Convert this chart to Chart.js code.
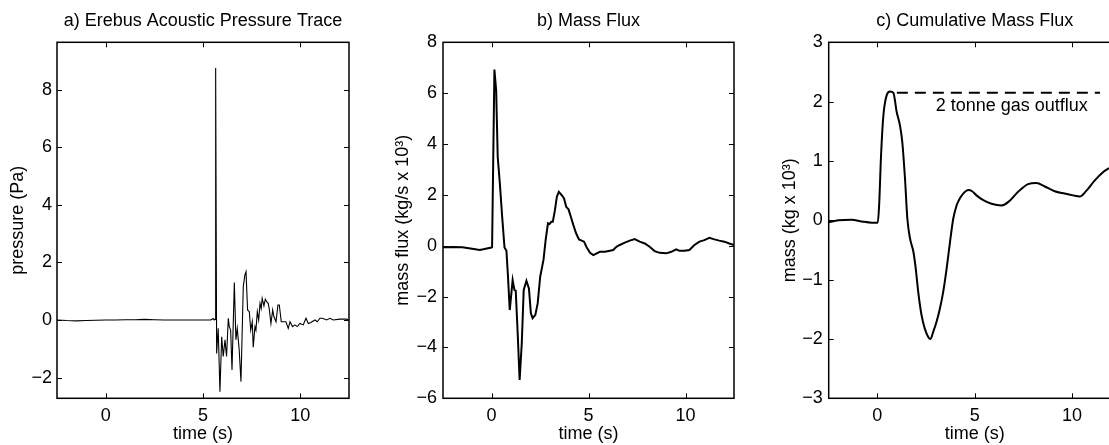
<!DOCTYPE html>
<html><head><meta charset="utf-8">
<script src="https://cdn.jsdelivr.net/npm/chart.js@4/dist/chart.umd.min.js"></script>
<style>
html,body{margin:0;padding:0;background:#fff;overflow:hidden;width:1109px;height:445px;position:relative;}
canvas{position:absolute;top:0;display:block;}
</style></head><body>
<canvas id="ca" width="370" height="445" style="left:0px;width:370px;height:445px"></canvas>
<canvas id="cb" width="370" height="445" style="left:370px;width:370px;height:445px"></canvas>
<canvas id="cc" width="390" height="445" style="left:740px;width:390px;height:445px"></canvas>
<script>
// ---------- data ----------
const X_TICKS = [0, 5, 10];
const A_Y_TICKS = [-2, 0, 2, 4, 6, 8];
const B_Y_TICKS = [-6, -4, -2, 0, 2, 4, 6, 8];
const C_Y_TICKS = [-3, -2, -1, 0, 1, 2, 3];

// a) acoustic pressure (Pa) vs time (s)
const A_T = [-2.5,-2.0,-1.5,-1.0,-0.5,0,0.5,1,1.5,2,2.5,3,3.5,4,4.5,5,5.4,5.52,5.58,5.62,5.65,5.70,5.78,5.87,5.96,6.04,6.13,6.21,6.30,6.35,6.42,6.49,6.61,6.69,6.76,6.86,6.95,7.07,7.15,7.21,7.29,7.38,7.45,7.53,7.58,7.67,7.72,7.79,7.86,7.93,7.99,8.04,8.13,8.20,8.27,8.35,8.40,8.49,8.58,8.64,8.75,8.85,8.92,9.02,9.12,9.26,9.38,9.47,9.60,9.72,9.84,9.98,10.15,10.29,10.41,10.54,10.75,10.87,11.01,11.14,11.35,11.52,11.69,12.03,12.38,12.5];
const A_P = [0.0,-0.02,-0.03,-0.02,-0.01,0.0,0.0,0.01,0.01,0.02,0.01,0.0,0.0,0.0,0.0,0.0,0.0,0.05,0.0,0.02,8.75,-1.16,-0.29,-2.49,-0.58,-1.27,-0.69,-1.27,0.06,-0.23,-0.35,-1.74,1.30,-0.69,-0.29,-1.04,-2.14,1.16,1.56,1.68,0.35,0.29,-0.35,-0.06,-0.95,-0.23,-0.35,0.29,0.0,0.58,0.40,0.75,0.49,0.72,0.64,0.58,0.40,-0.12,0.35,0.12,-0.06,0.52,0.52,-0.06,-0.06,-0.06,-0.29,-0.06,-0.23,-0.17,-0.23,-0.12,-0.17,0.06,-0.12,-0.09,0.0,-0.06,0.06,0.06,0.0,0.06,0.0,0.03,0.03,0.0];

// b) mass flux (kg/s x 10^3)
const B_T = [-2.5,-2.0,-1.5,-1.0,-0.6,-0.3,0.0,0.03,0.15,0.24,0.32,0.43,0.55,0.67,0.77,0.85,0.94,1.09,1.18,1.25,1.35,1.45,1.56,1.66,1.80,1.93,2.03,2.12,2.26,2.38,2.51,2.68,2.79,2.91,2.99,3.08,3.16,3.27,3.37,3.47,3.62,3.74,3.85,3.97,4.09,4.22,4.36,4.51,4.65,4.77,4.91,5.08,5.25,5.42,5.59,5.85,6.10,6.27,6.44,6.61,6.87,7.13,7.38,7.64,7.90,8.15,8.41,8.67,9.01,9.27,9.52,9.69,9.95,10.20,10.46,10.72,10.97,11.23,11.49,11.74,12.00,12.26,12.5];
const B_F = [-0.06,-0.05,-0.06,-0.12,-0.17,-0.12,-0.07,-0.05,6.93,6.12,3.50,2.45,1.14,-0.07,-0.20,-1.22,-2.53,-1.35,-1.74,-1.77,-3.45,-5.28,-3.84,-1.74,-1.38,-1.68,-2.66,-2.85,-2.72,-2.27,-1.22,-0.56,0.22,0.88,0.85,0.94,0.94,1.40,1.93,2.12,1.99,1.86,1.53,1.43,1.14,0.81,0.49,0.25,0.20,0.16,-0.07,-0.28,-0.37,-0.30,-0.24,-0.24,-0.20,-0.17,-0.04,0.03,0.12,0.20,0.26,0.16,0.09,-0.04,-0.21,-0.28,-0.30,-0.24,-0.14,-0.20,-0.20,-0.17,0.03,0.16,0.22,0.31,0.25,0.20,0.16,0.09,0.03];

// c) cumulative mass (kg x 10^3)
const C_T = [-2.5,-2.0,-1.32,-0.8,-0.29,0.02,0.09,0.19,0.31,0.48,0.65,0.82,0.99,1.16,1.28,1.42,1.54,1.68,1.85,1.97,2.10,2.27,2.44,2.62,2.73,2.87,3.04,3.21,3.38,3.56,3.73,3.90,4.07,4.24,4.41,4.67,4.87,5.09,5.44,5.86,6.38,6.80,7.23,7.74,8.17,8.60,9.11,9.62,10.05,10.39,10.74,11.16,11.59,11.9];
const C_M = [-0.03,0.0,0.01,-0.02,-0.04,-0.04,0.25,1.10,1.77,2.11,2.17,2.15,1.83,1.60,1.32,0.70,0.03,-0.31,-0.53,-0.81,-1.21,-1.60,-1.83,-1.97,-2.00,-1.88,-1.71,-1.49,-1.21,-0.81,-0.37,0.03,0.25,0.37,0.45,0.51,0.49,0.42,0.34,0.28,0.25,0.33,0.48,0.61,0.63,0.57,0.49,0.45,0.42,0.40,0.50,0.67,0.81,0.88];
const C_DASH_T = [1.0, 11.44];
const C_DASH_M = [2.15, 2.15];
const NOTE = {text: '2 tonne gas outflux', t: 6.9, v: 1.92};

// ---------- helpers ----------
const FAM = "'Liberation Sans', Arial, Helvetica, sans-serif";
const FS = 18;
const fmt = v => (v < 0 ? '\u2212' + Math.abs(v) : String(v));
const pts = (xs, ys) => xs.map((x, i) => ({x, y: ys[i]}));

const framePlugin = {
  id: 'frame',
  afterDraw(chart) {
    const {ctx, chartArea: {left, right, top, bottom}, scales: {x, y}} = chart;
    ctx.save();
    ctx.strokeStyle = '#000';
    ctx.lineWidth = 1.5;
    ctx.strokeRect(left, top, right - left, bottom - top);
    ctx.lineWidth = 1;
    ctx.beginPath();
    const L = 5;
    X_TICKS.forEach(v => {
      const p = Math.round(x.getPixelForValue(v)) + 0.5;
      ctx.moveTo(p, bottom); ctx.lineTo(p, bottom - L);
      ctx.moveTo(p, top); ctx.lineTo(p, top + L);
    });
    (chart.$yTicks || []).forEach(v => {
      const p = Math.round(y.getPixelForValue(v)) + 0.5;
      ctx.moveTo(left, p); ctx.lineTo(left + L, p);
      ctx.moveTo(right, p); ctx.lineTo(right - L, p);
    });
    ctx.stroke();
    ctx.restore();
  }
};

const notePlugin = {
  id: 'note',
  afterDatasetsDraw(chart) {
    if (!chart.$note) return;
    const n = chart.$note;
    const {ctx, scales: {x, y}} = chart;
    ctx.save();
    ctx.fillStyle = '#000';
    ctx.font = FS + 'px ' + FAM;
    ctx.textAlign = 'center';
    ctx.textBaseline = 'middle';
    ctx.fillText(n.text, x.getPixelForValue(n.t), y.getPixelForValue(n.v));
    ctx.restore();
  }
};

function panel(id, o) {
  const font = {family: FAM, size: FS, weight: 'normal'};
  const chart = new Chart(document.getElementById(id), {
    type: 'line',
    data: {datasets: o.datasets},
    options: {
      responsive: false,
      animation: false,
      events: [],
      layout: {padding: {left: 0, right: o.padRight, top: 0, bottom: 0}},
      plugins: {
        legend: {display: false},
        tooltip: {enabled: false},
        title: {display: true, text: o.title, color: '#000', font, fullSize: false,
                padding: {top: 10, bottom: o.plotTop - 10 - FS * 1.2}}
      },
      elements: {point: {radius: 0}},
      scales: {
        x: {
          type: 'linear', min: -2.5, max: 12.5,
          afterBuildTicks: s => { s.ticks = X_TICKS.map(v => ({value: v})); },
          afterFit: s => { s.height = 445 - o.plotBottom; },
          grid: {display: false, drawTicks: false},
          border: {display: false},
          ticks: {color: '#000', font, padding: 7, maxRotation: 0, autoSkip: false, callback: fmt},
          title: {display: true, text: 'time (s)', color: '#000', font, padding: {top: 0, bottom: 0}}
        },
        y: {
          type: 'linear', min: o.ymin, max: o.ymax,
          afterBuildTicks: s => { s.ticks = o.yTicks.map(v => ({value: v})); },
          afterFit: s => { s.width = o.yWidth; },
          grid: {display: false, drawTicks: false},
          border: {display: false},
          ticks: {color: '#000', font, padding: o.tickPad, autoSkip: false, callback: fmt},
          title: {display: true, text: o.yTitle, color: '#000', font, padding: {top: o.yTitlePad, bottom: 0}}
        }
      }
    },
    plugins: [framePlugin, notePlugin]
  });
  chart.$yTicks = o.yTicks;
  chart.$note = o.note || null;
  chart.draw();
  return chart;
}

panel('ca', {
  title: 'a) Erebus Acoustic Pressure Trace',
  yTitle: 'pressure (Pa)',
  ymin: -2.72, ymax: 9.645, yTicks: A_Y_TICKS,
  yWidth: 57, padRight: 21, plotTop: 42.3, plotBottom: 398.3, yTitlePad: 7.5, tickPad: 5,
  datasets: [{data: pts(A_T, A_P), borderColor: '#000', borderWidth: 1.1, tension: 0, fill: false}]
});

panel('cb', {
  title: 'b) Mass Flux',
  yTitle: 'mass flux (kg/s x 10\u00B3)',
  ymin: -6, ymax: 8, yTicks: B_Y_TICKS,
  yWidth: 73, padRight: 6, plotTop: 42.3, plotBottom: 398.3, yTitlePad: 22, tickPad: 6,
  datasets: [{data: pts(B_T, B_F), borderColor: '#000', borderWidth: 2, tension: 0, fill: false}]
});

panel('cc', {
  title: 'c) Cumulative Mass Flux',
  yTitle: 'mass (kg x 10\u00B3)',
  ymin: -3, ymax: 3, yTicks: C_Y_TICKS,
  yWidth: 88.7, padRight: 9.3, plotTop: 42.3, plotBottom: 398.3, yTitlePad: 39, tickPad: 6,
  note: NOTE,
  datasets: [
    {data: pts(C_T, C_M), borderColor: '#000', borderWidth: 2, cubicInterpolationMode: 'monotone', fill: false},
    {data: pts(C_DASH_T, C_DASH_M), borderColor: '#000', borderWidth: 2, borderDash: [11, 7], tension: 0, fill: false}
  ]
});
</script>
</body></html>
